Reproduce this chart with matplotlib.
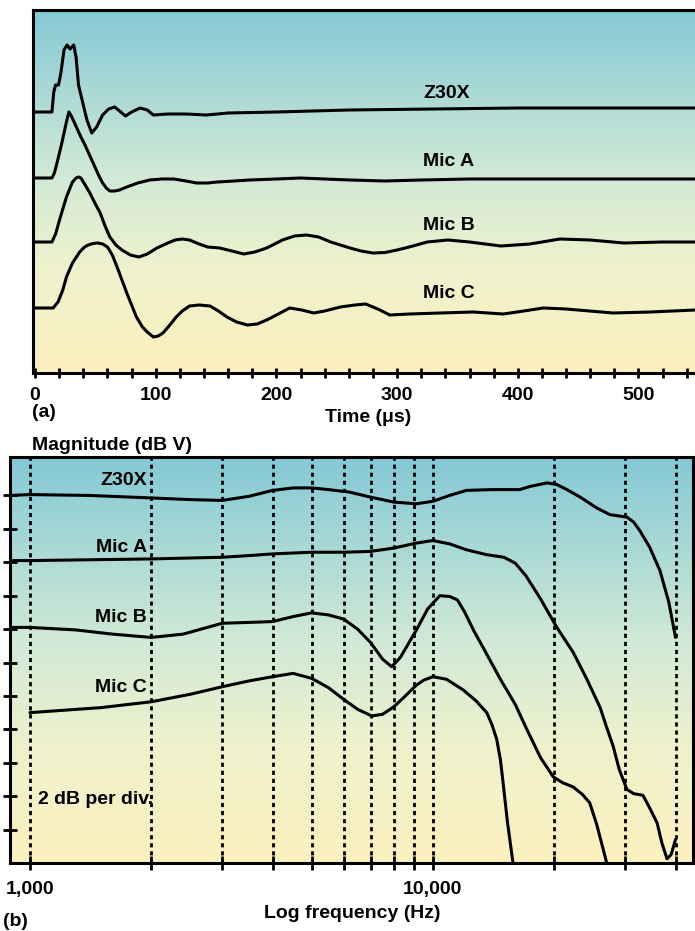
import matplotlib
matplotlib.use("Agg")
import matplotlib.pyplot as plt
import numpy as np
from matplotlib.colors import LinearSegmentedColormap

plt.rcParams['font.family'] = ['Liberation Sans', 'DejaVu Sans']
plt.rcParams['font.weight'] = 'bold'

W, H = 695, 931

# ---- (a) impulse response, time in microseconds, amplitude in arbitrary units ----
trace_names = ["Z30X", "Mic A", "Mic B", "Mic C"]
trace_offsets = [261, 195, 131, 65]

z30x_t = [0, 14, 15.5, 17, 19.5, 21.5, 24, 26.5, 29, 32, 34, 36, 39, 43, 47, 51, 56, 61, 66, 71, 75,
          80, 87, 93, 98, 110, 125, 142, 160, 200, 260, 330, 400, 470, 547]
z30x_a = [0, 0, 20, 27, 27, 40, 62, 67, 63, 67, 55, 27, 12, -8, -21, -15, -3, 3, 5, 0, -4,
          0, 4, 2, -3, -2, -2, -3, -1, 0, 2, 3, 4, 4, 4]

mica_t = [0, 14, 16, 18, 20, 22, 24, 26, 28, 30, 32, 35, 38, 41, 44, 47, 50, 53, 56, 59, 62, 66,
          70, 76, 85, 95, 105, 115, 125, 134, 143, 151, 165, 178, 200, 220, 240, 261, 290, 320,
          360, 420, 480, 547]
mica_a = [0, 0, 5, 14, 24, 34, 45, 56, 66, 62, 57, 49, 41, 34, 26, 18, 10, 2, -5, -10, -13, -13,
          -12, -9, -5, -2, -1, -1, -3, -5, -5, -4, -3, -2, -1, 0, -1, -2, -3, -2,
          -1, -1, -1, -1]

micb_t = [0, 14, 17, 21, 26, 31, 34, 36, 38, 40, 45, 50, 54, 58, 62, 67, 72, 79, 86, 93, 101, 110,
          116, 122, 128, 136, 143, 153, 163, 173, 182, 192, 205, 215, 225, 235, 245, 253, 261, 270,
          280, 290, 300, 310, 325, 342, 360, 386, 410, 435, 460, 488, 520, 547]
micb_a = [0, 0, 8, 25, 45, 60, 64, 65, 64, 60, 50, 38, 29, 16, 5, -3, -8, -13, -15, -12, -6, -1,
          2, 3, 2, -2, -5, -6, -9, -12, -10, -6, 2, 6, 7, 5, 0, -3, -6, -9,
          -11, -10.5, -8, -5, 0, 2, 0, -4, -2, 3, 2, -1, 0, 0]

micc_t = [0, 15, 19, 23, 26, 31, 37, 41, 44, 48, 52, 56, 60, 64, 68, 72, 76, 80, 84, 89, 93, 98,
          102, 106, 111, 117, 122, 128, 136, 145, 152, 159, 167, 176, 184, 192, 200, 211, 221,
          231, 240, 253, 265, 274, 284, 294, 310, 336, 363, 388, 405, 421, 440, 479, 510, 547]
micc_a = [0, 0, 6, 18, 31, 45, 56, 61, 63, 64.5, 65, 64, 61, 53, 41, 28, 15, 3, -9, -19, -24, -29,
          -28, -25, -18, -9, -3, 2, 3, 2, -3, -9, -14, -17, -16, -12, -7, 0, -2,
          -5, -3, 1, 3, 4, -1, -7, -6, -5, -4, -6, -3, 0, -1, -5, -4, -2]

time_ticks = [0, 100, 200, 300, 400, 500]

# ---- (b) magnitude response, frequency in Hz, magnitude in dB ----
z30x_f = [892, 1000, 1400, 2000, 2500, 3000, 3500, 4000, 4500, 5000, 5500, 6200, 7000, 8000, 9100,
          10000, 11000, 12100, 14000, 16400, 17500, 19200, 20300, 21500, 23200, 25500, 27500,
          30300, 31500, 32600, 34500, 36600, 38500, 40000]
z30x_db = [22.0, 22.05, 22.0, 21.85, 21.75, 21.7, 21.95, 22.3, 22.45, 22.45, 22.35, 22.2, 21.9,
           21.6, 21.5, 21.65, 22.0, 22.3, 22.35, 22.35, 22.55, 22.75, 22.65, 22.35, 21.9, 21.25,
           20.85, 20.7, 20.4, 19.9, 18.9, 17.5, 15.6, 13.5]

mica_f = [892, 1000, 2000, 3000, 3500, 4000, 5000, 6000, 7000, 8000, 9100, 10000, 11000, 12100,
          13600, 15000, 16000, 17000, 18400, 20300, 22300, 24100, 26000, 27000, 28000, 29000,
          30300, 31500, 33200, 34500, 36000, 37000, 38100, 39000, 40000]
mica_db = [18.1, 18.1, 18.2, 18.3, 18.4, 18.5, 18.6, 18.6, 18.65, 18.85, 19.15, 19.3, 19.1, 18.75,
           18.45, 18.3, 17.95, 17.2, 15.9, 14.1, 12.6, 11.0, 9.3, 8.1, 7.0, 5.6,
           4.4, 4.15, 4.05, 3.3, 2.4, 1.2, 0.25, 0.5, 1.4]

micb_f = [892, 1000, 1300, 1600, 2000, 2400, 3000, 3500, 4000, 4500, 5000, 5500, 6000, 6500, 7000,
          7500, 7900, 8300, 9100, 9700, 10400, 11000, 11500, 12000, 12600, 13600, 14700, 16000,
          17100, 18500, 19900, 21000, 22300, 23500, 24500, 25500, 27000]
micb_db = [14.1, 14.1, 13.95, 13.7, 13.5, 13.7, 14.35, 14.4, 14.45, 14.75, 14.97, 14.85, 14.6,
           14.0, 13.2, 12.2, 11.75, 12.3, 13.95, 15.2, 16.0, 15.95, 15.75, 15.0, 13.95, 12.5,
           11.0, 9.5, 8.0, 6.3, 5.15, 4.8, 4.55, 4.1, 3.6, 2.3, 0.0]

micc_f = [1000, 1500, 2000, 2500, 3000, 3500, 4000, 4500, 5000, 5500, 6000, 6500, 7050, 7500, 8000,
          8500, 9100, 9500, 10000, 10800, 11900, 12800, 13600, 14000, 14400, 14700, 14900, 15300,
          15800]
micc_db = [9.0, 9.3, 9.65, 10.1, 10.55, 10.9, 11.15, 11.35, 11.05, 10.5, 9.8, 9.2, 8.8, 8.9, 9.35,
           9.95, 10.65, 10.95, 11.15, 11.0, 10.35, 9.7, 9.0, 8.3, 7.4, 6.2, 5.0, 2.5, 0.0]

grid_freqs = [1000, 2000, 3000, 4000, 5000, 6000, 7000, 8000, 9000, 10000, 20000, 30000, 40000]
freq_labels = {1000: "1,000", 10000: "10,000"}
db_ticks = [2, 4, 6, 8, 10, 12, 14, 16, 18, 20, 22]


def rect(left, top, right, bottom):
    return [left / W, 1 - bottom / H, (right - left) / W, (bottom - top) / H]


def ftext(x, y, s, **kw):
    fig.text(x / W, 1 - y / H, s, fontsize=14, fontweight='bold', va='center', **kw)


grad = LinearSegmentedColormap.from_list(
    "bg", [(0.0, "#84c9d5"), (0.45, "#d0e9d6"), (0.72, "#eff2cc"), (1.0, "#fdf0bf")])

fig = plt.figure(figsize=(W / 100, H / 100), dpi=100)
fig.patch.set_facecolor("white")

# background gradients
for r in [rect(33, 10, 700, 373), rect(10, 457, 693, 863)]:
    bg = fig.add_axes(r, zorder=0)
    bg.imshow(np.linspace(0, 1, 256).reshape(-1, 1), aspect='auto', cmap=grad,
              extent=[0, 1, 0, 1])
    bg.axis('off')

lw = 2.2

# ---- panel (a) ----
ax1 = fig.add_axes(rect(33, 10, 700, 373), zorder=1)
ax1.patch.set_alpha(0)
series_a = [(z30x_t, z30x_a), (mica_t, mica_a), (micb_t, micb_a), (micc_t, micc_a)]
for (t, a), off in zip(series_a, trace_offsets):
    ax1.plot(t, np.array(a) + off, color='black', lw=lw, solid_joinstyle='round',
             solid_capstyle='round')
ax1.set_xlim(-1.7, 551)
ax1.set_ylim(0, 363)
ax1.set_yticks([])
ax1.set_xticks(time_ticks)
ax1.set_xticks(np.arange(0, 560, 20), minor=True)
ax1.tick_params(axis='x', which='both', direction='inout', length=7.5, width=2, color='black')
ax1.tick_params(axis='x', which='major', labelsize=14, pad=6)
for lab in ax1.get_xticklabels():
    lab.set_fontweight('bold')
ax1.spines['right'].set_visible(False)
for s in ['left', 'top', 'bottom']:
    ax1.spines[s].set_linewidth(lw)

label_y_a = [93, 162, 225, 294]
for name, y in zip(trace_names, label_y_a):
    ftext(423, y, name, ha='left')

ftext(32, 412, "(a)", ha='left')
ftext(368, 418, "Time (μs)", ha='center')

# ---- panel (b) ----
ax2 = fig.add_axes(rect(10, 457, 693, 863), zorder=1)
ax2.patch.set_alpha(0)
ax2.set_xscale('log')
for f in grid_freqs:
    ax2.axvline(f, color='black', lw=2, linestyle=(0, (1.5, 1.4)))
series_b = [(z30x_f, z30x_db), (mica_f, mica_db), (micb_f, micb_db), (micc_f, micc_db)]
for f, d in series_b:
    ax2.plot(f, d, color='black', lw=lw, solid_joinstyle='round', solid_capstyle='round')
ax2.set_xlim(892, 44200)
ax2.set_ylim(0, 24.3)
ax2.xaxis.set_minor_locator(matplotlib.ticker.NullLocator())
ax2.set_xticks(grid_freqs)
ax2.set_xticklabels([freq_labels.get(f, "") for f in grid_freqs])
ax2.set_yticks(db_ticks)
ax2.set_yticklabels([])
ax2.tick_params(axis='both', which='major', direction='inout', length=10, width=2,
                color='black', labelsize=14, pad=8)
for lab in ax2.get_xticklabels():
    lab.set_fontweight('bold')
for s in ax2.spines.values():
    s.set_linewidth(lw)

label_y_b = [480, 548, 617, 687]
for name, y in zip(trace_names, label_y_b):
    ftext(147, y, name, ha='right')

ftext(32, 445, "Magnitude (dB V)", ha='left')
ftext(38, 800, "2 dB per div.", ha='left')
ftext(352, 914, "Log frequency (Hz)", ha='center')
ftext(3, 921, "(b)", ha='left')

fig.savefig("out.png", dpi=100)
